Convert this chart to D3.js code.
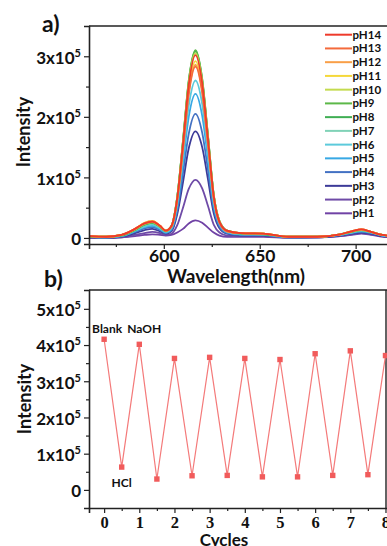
<!DOCTYPE html>
<html>
<head>
<meta charset="utf-8">
<script src="https://cdn.jsdelivr.net/npm/d3@7"></script>
<style>
  body { margin: 0; background: #fff; }
  text { font-family: Lato, "Open Sans", sans-serif; font-weight: bold; fill: #111; }
</style>
</head>
<body>
<div id="container"></div>
<script>
/* DATA */
// panel a: emission spectra, intensity in units of 1e4
const wavelengths = [560, 570, 578, 585, 590, 594, 598, 601, 604, 607, 610, 613, 616.5, 620, 623, 626, 629, 633, 640, 652, 665, 680, 692, 698, 703, 708, 714, 720];
const pHLabels = ["pH14", "pH13", "pH12", "pH11", "pH10", "pH9", "pH8", "pH7", "pH6", "pH5", "pH4", "pH3", "pH2", "pH1"];
const pHColors = ["#ee3a2b", "#f46a3b", "#f99f47", "#f5d83a", "#c4db4f", "#5cb848", "#3fae53", "#80d2b7", "#5ccadb", "#37a8e4", "#4371c3", "#3c3a98", "#6f4ba7", "#7042a5"];
const pH14 = [0.3,0.2,0.5,1.5,2.4,2.7,2.0,1.2,2.0,6.6,15.6,25.3,30.2,25.6,16.5,7.0,2.7,1.2,0.8,0.7,0.2,0.2,0.6,1.1,1.4,1.0,0.5,0.3];
const pH13 = [0.3,0.2,0.5,1.5,2.4,2.7,2.0,1.2,1.9,6.2,14.6,23.7,28.3,24.0,15.5,6.6,2.5,1.1,0.8,0.7,0.2,0.2,0.6,1.1,1.4,1.0,0.5,0.3];
const pH12 = [0.3,0.2,0.5,1.5,2.5,2.8,2.0,1.2,1.9,6.3,14.8,24.0,28.6,24.3,15.6,6.6,2.6,1.1,0.8,0.7,0.2,0.2,0.6,1.1,1.4,1.0,0.5,0.3];
const pH11 = [0.3,0.2,0.5,1.5,2.5,2.8,2.0,1.2,1.9,6.4,15.1,24.5,29.2,24.8,16.0,6.8,2.6,1.1,0.8,0.7,0.2,0.2,0.6,1.1,1.4,1.0,0.5,0.3];
const pH10 = [0.3,0.2,0.5,1.4,2.3,2.6,1.9,1.2,2.0,6.7,15.8,25.6,30.5,25.9,16.7,7.1,2.8,1.2,0.8,0.7,0.2,0.2,0.6,1.1,1.3,1.0,0.5,0.3];
const pH9  = [0.3,0.2,0.5,1.4,2.3,2.6,1.9,1.2,2.0,6.8,16.1,26.0,31.0,26.3,17.0,7.2,2.8,1.2,0.8,0.7,0.2,0.2,0.6,1.1,1.3,1.0,0.5,0.3];
const pH8  = [0.2,0.2,0.4,1.3,2.2,2.5,1.8,1.1,2.0,6.8,16.0,25.9,30.9,26.2,16.9,7.2,2.8,1.2,0.7,0.6,0.2,0.2,0.6,1.0,1.3,1.0,0.5,0.3];
const pH7  = [0.2,0.2,0.4,1.3,2.1,2.4,1.8,1.1,2.0,6.7,15.9,25.7,30.7,26.0,16.8,7.1,2.8,1.2,0.7,0.6,0.2,0.2,0.6,1.0,1.3,1.0,0.5,0.3];
const pH6  = [0.2,0.1,0.4,1.2,1.9,2.2,1.6,1.0,1.7,5.7,13.5,21.8,26.0,22.1,14.3,6.0,2.4,1.0,0.6,0.6,0.2,0.2,0.5,0.9,1.2,0.9,0.4,0.2];
const pH5  = [0.2,0.1,0.3,1.1,1.8,2.0,1.5,0.9,1.5,5.2,12.4,20.0,23.8,20.2,13.1,5.5,2.2,0.9,0.6,0.5,0.1,0.2,0.5,0.9,1.1,0.9,0.4,0.2];
const pH4  = [0.1,0.1,0.3,1.0,1.6,1.8,1.3,0.8,1.3,4.5,10.7,17.2,20.5,17.4,11.3,4.8,1.9,0.8,0.5,0.5,0.1,0.1,0.5,0.8,1.0,0.8,0.4,0.2];
const pH3  = [0.1,0.0,0.2,0.8,1.3,1.5,1.1,0.7,1.1,3.9,9.2,14.8,17.6,15.0,9.7,4.1,1.6,0.7,0.4,0.4,0.1,0.1,0.4,0.7,0.9,0.7,0.3,0.2];
const pH2  = [0.0,0.0,0.1,0.5,0.8,1.0,0.8,0.5,0.7,2.1,5.0,8.1,9.6,8.2,5.3,2.2,0.9,0.4,0.3,0.3,0.1,0.1,0.3,0.6,0.8,0.6,0.3,0.1];
const pH1  = [0.0,0.0,0.1,0.3,0.5,0.6,0.5,0.4,0.5,0.9,1.5,2.4,2.9,2.5,1.7,0.9,0.4,0.2,0.2,0.2,0.0,0.1,0.3,0.5,0.7,0.5,0.2,0.1];
const spectra = [pH14, pH13, pH12, pH11, pH10, pH9, pH8, pH7, pH6, pH5, pH4, pH3, pH2, pH1];

// panel b: cycling, intensity in units of 1e5
const cycleX = [0, 0.5, 1, 1.5, 2, 2.5, 3, 3.5, 4, 4.5, 5, 5.5, 6, 6.5, 7, 7.5, 8];
const cycleY = [4.16, 0.63, 4.02, 0.30, 3.63, 0.39, 3.66, 0.40, 3.63, 0.36, 3.60, 0.36, 3.76, 0.40, 3.84, 0.42, 3.71];
const annotations = [["Blank", 0], ["NaOH", 2], ["HCl", 1]];

/* SVG */
const width = 387, height = 546;
const svg = d3.select("#container").append("svg")
  .attr("width", width).attr("height", height);

function sciLabel(sel, exp) {
  sel.each(function(d) {
    const t = d3.select(this);
    t.text(null);
    if (d === 0) { t.append("tspan").text("0"); return; }
    t.append("tspan").text(Math.round(d / Math.pow(10, exp)) + "x10");
    t.append("tspan").attr("dy", -7).attr("font-size", 11).text(exp);
  });
}

function styleAxis(g) {
  g.selectAll("path.domain").attr("stroke", "#222").attr("stroke-width", 1.6);
  g.selectAll(".tick line").attr("stroke", "#222").attr("stroke-width", 1.2);
}

/* PANEL A */
const xA = d3.scaleLinear().domain([561, 720]).range([89, 394]);
const yA = d3.scaleLinear().domain([-0.1e5, 3.5e5]).range([244, 26]);

svg.append("clipPath").attr("id", "clipA").append("rect")
  .attr("x", 89).attr("y", 26).attr("width", 305).attr("height", 218);

svg.append("line").attr("x1", 89).attr("x2", 394).attr("y1", 26).attr("y2", 26)
  .attr("stroke", "#222").attr("stroke-width", 1.6);

const lineA = d3.line()
  .x((d, i) => xA(wavelengths[i]))
  .y(d => yA(d * 1e4))
  .curve(d3.curveMonotoneX);

svg.append("g").attr("clip-path", "url(#clipA)")
  .selectAll("path.spec")
  .data(spectra.slice().reverse())
  .join("path")
  .attr("class", "spec")
  .attr("d", lineA)
  .attr("fill", "none")
  .attr("stroke", (d, i) => pHColors[pHColors.length - 1 - i])
  .attr("stroke-width", 1.8);

// axes a
const gxA = svg.append("g").attr("transform", "translate(0,244)")
  .call(d3.axisBottom(xA).tickValues([600, 650, 700]).tickSize(5).tickPadding(1));
svg.append("g").attr("transform", "translate(0,244)")
  .call(d3.axisBottom(xA).tickValues([575, 625, 675]).tickSize(3).tickFormat(""))
  .call(g => g.select(".domain").remove()).call(styleAxis);
gxA.call(styleAxis);
gxA.selectAll("text").attr("font-size", 17.5).attr("fill", "#111");

const gyA = svg.append("g").attr("transform", "translate(89,0)")
  .call(d3.axisLeft(yA).tickValues([0, 1e5, 2e5, 3e5]).tickSize(5).tickPadding(3));
svg.append("g").attr("transform", "translate(89,0)")
  .call(d3.axisLeft(yA).tickValues([0.5e5, 1.5e5, 2.5e5]).tickSize(3).tickFormat(""))
  .call(g => g.select(".domain").remove()).call(styleAxis);
gyA.call(styleAxis);
gyA.selectAll("text").attr("font-size", 17).attr("fill", "#111").attr("dy", "0.4em").call(sciLabel, 5);

svg.append("text").attr("x", 236).attr("y", 283).attr("text-anchor", "middle")
  .attr("font-size", 19).text("Wavelength(nm)");
svg.append("text").attr("transform", "translate(30,132) rotate(-90)")
  .attr("text-anchor", "middle").attr("font-size", 18).text("Intensity");
svg.append("text").attr("x", 42).attr("y", 32).attr("font-size", 23).text("a)");

// legend
const legend = svg.append("g").selectAll("g")
  .data(pHLabels).join("g")
  .attr("transform", (d, i) => `translate(325,${34.7 + i * 13.74})`);
legend.append("line").attr("x1", 0).attr("x2", 27)
  .attr("stroke", (d, i) => pHColors[i]).attr("stroke-width", 2);
legend.append("text").attr("x", 27.5).attr("y", 4).attr("font-size", 11.5).text(d => d);

/* PANEL B */
const xB = d3.scaleLinear().domain([-0.43, 8.1]).range([89, 389]);
const yB = d3.scaleLinear().domain([-0.5e5, 5.52e5]).range([508, 290]);

svg.append("line").attr("x1", 89).attr("x2", 389).attr("y1", 290).attr("y2", 290)
  .attr("stroke", "#222").attr("stroke-width", 1.6);
svg.append("line").attr("x1", 386).attr("x2", 386).attr("y1", 290).attr("y2", 508)
  .attr("stroke", "#222").attr("stroke-width", 1.4);

const gxB = svg.append("g").attr("transform", "translate(0,508)")
  .call(d3.axisBottom(xB).tickValues(d3.range(0, 9)).tickSize(5).tickPadding(3));
svg.append("g").attr("transform", "translate(0,508)")
  .call(d3.axisBottom(xB).tickValues(d3.range(0.5, 8, 1)).tickSize(3).tickFormat(""))
  .call(g => g.select(".domain").remove()).call(styleAxis);
gxB.call(styleAxis);
gxB.selectAll("text").attr("font-size", 16.5).attr("fill", "#111")
  .style("font-family", "'Liberation Serif', serif");

const gyB = svg.append("g").attr("transform", "translate(89,0)")
  .call(d3.axisLeft(yB).tickValues([0, 1e5, 2e5, 3e5, 4e5, 5e5]).tickSize(5).tickPadding(3));
svg.append("g").attr("transform", "translate(89,0)")
  .call(d3.axisLeft(yB).tickValues([0.5e5, 1.5e5, 2.5e5, 3.5e5, 4.5e5]).tickSize(3).tickFormat(""))
  .call(g => g.select(".domain").remove()).call(styleAxis);
gyB.call(styleAxis);
gyB.selectAll("text").attr("font-size", 17).attr("fill", "#111").attr("dy", "0.4em").call(sciLabel, 5);

const cyc = cycleX.map((x, i) => ({ x: x, y: cycleY[i] * 1e5 }));
svg.append("path").datum(cyc)
  .attr("d", d3.line().x(d => xB(d.x)).y(d => yB(d.y)))
  .attr("fill", "none").attr("stroke", "#f47a7a").attr("stroke-width", 1.2);
svg.selectAll("rect.pt").data(cyc).join("rect")
  .attr("class", "pt")
  .attr("x", d => xB(d.x) - 2.7).attr("y", d => yB(d.y) - 2.7)
  .attr("width", 5.4).attr("height", 5.4).attr("fill", "#f15b5b");

svg.selectAll("text.ann").data(annotations).join("text")
  .attr("class", "ann").attr("font-size", 12).attr("text-anchor", "middle")
  .attr("x", d => xB(cycleX[d[1]]) + (d[0] === "Blank" ? 3 : d[0] === "NaOH" ? 5 : 0))
  .attr("y", d => d[0] === "HCl" ? yB(cycleY[d[1]] * 1e5) + 20 : 333)
  .text(d => d[0]);

svg.append("text").attr("x", 224).attr("y", 546).attr("text-anchor", "middle")
  .attr("font-size", 17).text("Cycles");
svg.append("text").attr("transform", "translate(31,399) rotate(-90)")
  .attr("text-anchor", "middle").attr("font-size", 18).text("Intensity");
svg.append("text").attr("x", 44).attr("y", 287).attr("font-size", 23).text("b)");
</script>
</body>
</html>
